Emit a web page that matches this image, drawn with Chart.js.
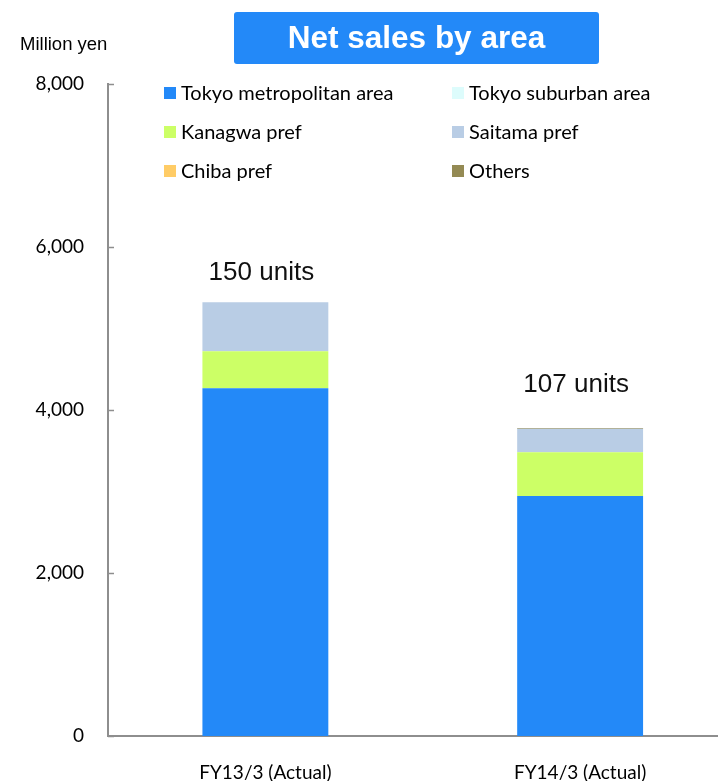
<!DOCTYPE html>
<html>
<head>
<meta charset="utf-8">
<title>Net sales by area</title>
<script src="https://cdn.jsdelivr.net/npm/chart.js@4/dist/chart.umd.min.js"></script>
<style>
  html, body { margin: 0; padding: 0; background: #ffffff; overflow: hidden; }
  #wrap { position: relative; width: 740px; height: 781px; }
</style>
</head>
<body>
<div id="wrap"><canvas id="chart" width="740" height="781"></canvas></div>
<script>
// Fiscal periods shown on the category axis
const periods = ['FY13/3 (Actual)', 'FY14/3 (Actual)'];

// Net sales per area, million yen
const tokyoMetro    = [4265, 2941];
const tokyoSuburban = [0, 0];
const kanagawa      = [453, 539];
const saitama       = [601, 286];
const chiba         = [0, 0];
const others        = [0, 10];

// Units sold in each period
const unitCounts = [150, 107];

// Value axis
const yMin = 0, yMax = 8000, yStep = 2000;

const seriesNames  = ['Tokyo metropolitan area', 'Tokyo suburban area', 'Kanagwa pref', 'Saitama pref', 'Chiba pref', 'Others'];
const seriesValues = [tokyoMetro, tokyoSuburban, kanagawa, saitama, chiba, others];
const seriesColors = ['#2389f8', '#ddfcfc', '#ccff66', '#b9cde5', '#ffcc66', '#948a54'];

const AXIS_COLOR = '#8e8e8e';
const LABEL_FONT = 'Lato, "Open Sans", sans-serif';
const ARIAL = '"Liberation Sans", Arial, sans-serif';

// Heading box, axis unit, two-column legend, inward tick marks and unit labels
const decorations = {
  id: 'decorations',
  afterDraw(chart, args, opts) {
    const ctx = chart.ctx;
    const y = chart.scales.y;
    const area = chart.chartArea;
    ctx.save();

    // inward tick marks on the value axis
    ctx.strokeStyle = AXIS_COLOR;
    ctx.lineWidth = 1.5;
    y.ticks.forEach(t => {
      const py = Math.round(y.getPixelForValue(t.value)) + 0.5;
      ctx.beginPath();
      ctx.moveTo(area.left, py);
      ctx.lineTo(area.left + 6, py);
      ctx.stroke();
    });

    // heading box
    const b = opts.heading;
    ctx.fillStyle = b.color;
    ctx.beginPath();
    ctx.roundRect(b.x, b.y, b.w, b.h, 3);
    ctx.fill();
    ctx.fillStyle = '#ffffff';
    ctx.font = 'bold 31.5px ' + ARIAL;
    ctx.textAlign = 'center';
    ctx.textBaseline = 'middle';
    ctx.fillText(b.text, b.x + b.w / 2, b.y + b.h / 2 + 1);

    // axis unit
    ctx.fillStyle = '#000000';
    ctx.font = '18.5px ' + ARIAL;
    ctx.textAlign = 'left';
    ctx.fillText('Million yen', 20, 45);

    // legend in two columns
    const L = opts.legend;
    ctx.font = L.fontSize + 'px ' + LABEL_FONT;
    chart.data.datasets.forEach((ds, i) => {
      const col = i % 2, row = Math.floor(i / 2);
      const sx = L.cols[col], sy = L.rows[row];
      ctx.fillStyle = ds.backgroundColor;
      ctx.fillRect(sx, sy - 6, 12, 12);
      ctx.fillStyle = '#000000';
      ctx.textAlign = 'left';
      ctx.fillText(ds.label, sx + 17, sy + 1);
    });

    // units sold above each stacked bar
    const lastMeta = chart.getDatasetMeta(chart.data.datasets.length - 1);
    ctx.font = '26px ' + ARIAL;
    ctx.fillStyle = '#111111';
    ctx.textAlign = 'center';
    unitCounts.forEach((n, i) => {
      const total = seriesValues.reduce((s, arr) => s + arr[i], 0);
      const px = lastMeta.data[i].x - 4;
      const py = y.getPixelForValue(total) - opts.lift[i];
      ctx.fillText(n + ' units', px, py);
    });

    ctx.restore();
  }
};

new Chart(document.getElementById('chart'), {
  type: 'bar',
  data: {
    labels: periods,
    datasets: seriesNames.map((name, i) => ({
      label: name,
      data: seriesValues[i],
      backgroundColor: seriesColors[i],
      borderWidth: 0,
      categoryPercentage: 1.0,
      barPercentage: 0.4
    }))
  },
  options: {
    responsive: false,
    animation: false,
    devicePixelRatio: 1,
    layout: { padding: { top: 83.5, right: 2.5, left: 0, bottom: 0 } },
    plugins: {
      legend: { display: false },
      tooltip: { enabled: false },
      decorations: {
        heading: { x: 234, y: 12, w: 365, h: 52, color: '#2389f8', text: 'Net sales by area' },
        legend: { cols: [164, 452], rows: [93, 132, 171], fontSize: 20 },
        lift: [29, 43]
      }
    },
    scales: {
      x: {
        stacked: true,
        grid: { display: false, drawTicks: false },
        border: { display: true, color: AXIS_COLOR, width: 2 },
        ticks: { color: '#000000', font: { family: LABEL_FONT, size: 19 }, padding: 25 },
        afterFit(scale) { scale.height = 45; }
      },
      y: {
        stacked: true,
        min: yMin,
        max: yMax,
        grid: { display: false, drawTicks: false },
        border: { display: true, color: AXIS_COLOR, width: 2 },
        ticks: {
          stepSize: yStep,
          color: '#000000',
          padding: 24,
          font: { family: LABEL_FONT, size: 19 },
          callback: v => v.toLocaleString('en-US')
        },
        afterFit(scale) { scale.width = 108; }
      }
    }
  },
  plugins: [decorations]
});
</script>
</body>
</html>
